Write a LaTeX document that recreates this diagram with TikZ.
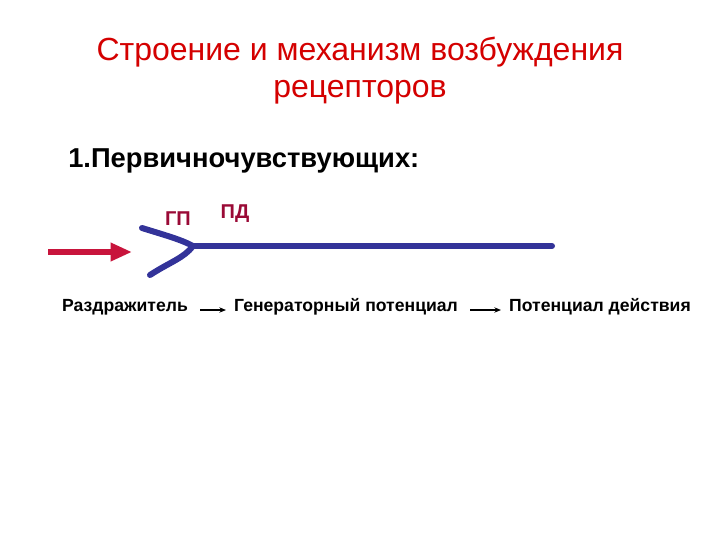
\documentclass[tikz,border=0pt]{standalone}
\usepackage{fontspec}
\setmainfont{Liberation Sans}
\usetikzlibrary{arrows.meta}
\definecolor{titlered}{HTML}{D40000}
\definecolor{gpred}{HTML}{9A0A36}
\definecolor{stimred}{HTML}{C8143C}
\definecolor{nerveblue}{HTML}{333399}
\begin{document}
\begin{tikzpicture}[x=0.75pt,y=-0.75pt,
  titletext/.style={text=titlered,font=\fontsize{24}{28}\selectfont,anchor=center,inner sep=0pt},
  headtext/.style={font=\bfseries\fontsize{20.5}{24}\selectfont,anchor=west,inner sep=0pt},
  lbl/.style={text=gpred,font=\bfseries\fontsize{15}{18}\selectfont,anchor=center,inner sep=0pt},
  flow/.style={font=\bfseries\fontsize{13.2}{16}\selectfont,anchor=center,inner sep=0pt},
  nerve/.style={draw=nerveblue,line width=4.5pt,line cap=round},
  flowarrow/.style={draw=black,line width=0.8pt,-{Stealth[length=5pt,width=4pt]}}]
\useasboundingbox[fill=white] (0,0) rectangle (720,540);
\node[titletext] (t1) at (360,52) {Строение и механизм возбуждения};
\node[titletext] (t2) at (360,92) {рецепторов};
\node[headtext] (h) at (68,161) {1.Первичночувствующих:};
\node[lbl] (gp) at (178,219) {ГП};
\node[lbl] (pd) at (235,214) {ПД};
% stimulus arrow
\coordinate (s0) at (48,252);
\coordinate (s1) at (132,252);
\draw[draw=stimred,line width=4pt,-{Triangle[length=16pt,width=13pt]}] (s0) -- (s1);
% nerve
\coordinate (j) at (193,246);
\coordinate (e) at (552,246);
\coordinate (b1) at (142,228);
\coordinate (b2) at (150,275);
\draw[nerve] (j) -- (e);
\draw[nerve] (b1) .. controls (168,236) and (182,240) .. (j);
\draw[nerve] (b2) .. controls (170,262) and (184,258) .. (j);
% flow line
\node[flow] (f1) at (125,307) {Раздражитель};
\node[flow] (f2) at (346,307) {Генераторный потенциал};
\node[flow] (f3) at (600,307) {Потенциал действия};
\coordinate (a1s) at (200,310);
\coordinate (a1e) at (226,310);
\coordinate (a2s) at (470,310);
\coordinate (a2e) at (501,310);
\draw[flowarrow] (a1s) -- (a1e);
\draw[flowarrow] (a2s) -- (a2e);
\end{tikzpicture}
\end{document}
